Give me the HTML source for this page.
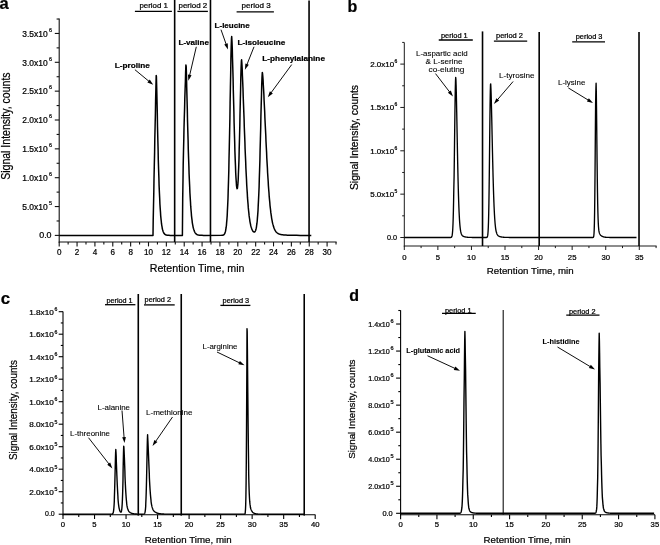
<!DOCTYPE html>
<html><head><meta charset="utf-8"><title>Chromatograms</title>
<style>
html,body{margin:0;padding:0;background:#fff;}
body{width:660px;height:545px;overflow:hidden;}
svg{display:block;font-family:"Liberation Sans", Arial, sans-serif;fill:#000;filter:grayscale(1);}
svg text{stroke:#000;stroke-width:0.22px;}
</style></head><body>
<svg width="660" height="545" viewBox="0 0 660 545">
<rect x="0" y="0" width="660" height="545" fill="#fff"/>
<line x1="59.20" y1="18.50" x2="59.20" y2="242.50" stroke="#111" stroke-width="1.1"/>
<line x1="58.70" y1="242.00" x2="336.60" y2="242.00" stroke="#111" stroke-width="1.1"/>
<line x1="54.80" y1="235.40" x2="59.20" y2="235.40" stroke="#111" stroke-width="1.1"/>
<text x="39.20" y="238.40" font-size="8.2" text-anchor="start" textLength="12.4" lengthAdjust="spacingAndGlyphs">0.0</text>
<line x1="54.80" y1="206.55" x2="59.20" y2="206.55" stroke="#111" stroke-width="1.1"/>
<text x="22.30" y="209.75" font-size="8.2" textLength="25.4" lengthAdjust="spacingAndGlyphs">5.0x10</text>
<text x="49.10" y="204.75" font-size="5.4">5</text>
<line x1="54.80" y1="177.70" x2="59.20" y2="177.70" stroke="#111" stroke-width="1.1"/>
<text x="22.30" y="180.90" font-size="8.2" textLength="25.4" lengthAdjust="spacingAndGlyphs">1.0x10</text>
<text x="49.10" y="175.90" font-size="5.4">6</text>
<line x1="54.80" y1="148.85" x2="59.20" y2="148.85" stroke="#111" stroke-width="1.1"/>
<text x="22.30" y="152.05" font-size="8.2" textLength="25.4" lengthAdjust="spacingAndGlyphs">1.5x10</text>
<text x="49.10" y="147.05" font-size="5.4">6</text>
<line x1="54.80" y1="120.00" x2="59.20" y2="120.00" stroke="#111" stroke-width="1.1"/>
<text x="22.30" y="123.20" font-size="8.2" textLength="25.4" lengthAdjust="spacingAndGlyphs">2.0x10</text>
<text x="49.10" y="118.20" font-size="5.4">6</text>
<line x1="54.80" y1="91.15" x2="59.20" y2="91.15" stroke="#111" stroke-width="1.1"/>
<text x="22.30" y="94.35" font-size="8.2" textLength="25.4" lengthAdjust="spacingAndGlyphs">2.5x10</text>
<text x="49.10" y="89.35" font-size="5.4">6</text>
<line x1="54.80" y1="62.30" x2="59.20" y2="62.30" stroke="#111" stroke-width="1.1"/>
<text x="22.30" y="65.50" font-size="8.2" textLength="25.4" lengthAdjust="spacingAndGlyphs">3.0x10</text>
<text x="49.10" y="60.50" font-size="5.4">6</text>
<line x1="54.80" y1="33.45" x2="59.20" y2="33.45" stroke="#111" stroke-width="1.1"/>
<text x="22.30" y="36.65" font-size="8.2" textLength="25.4" lengthAdjust="spacingAndGlyphs">3.5x10</text>
<text x="49.10" y="31.65" font-size="5.4">6</text>
<line x1="56.60" y1="220.97" x2="59.20" y2="220.97" stroke="#111" stroke-width="1.1"/>
<line x1="56.60" y1="192.12" x2="59.20" y2="192.12" stroke="#111" stroke-width="1.1"/>
<line x1="56.60" y1="163.28" x2="59.20" y2="163.28" stroke="#111" stroke-width="1.1"/>
<line x1="56.60" y1="134.43" x2="59.20" y2="134.43" stroke="#111" stroke-width="1.1"/>
<line x1="56.60" y1="105.57" x2="59.20" y2="105.57" stroke="#111" stroke-width="1.1"/>
<line x1="56.60" y1="76.72" x2="59.20" y2="76.72" stroke="#111" stroke-width="1.1"/>
<line x1="56.60" y1="47.88" x2="59.20" y2="47.88" stroke="#111" stroke-width="1.1"/>
<line x1="56.60" y1="19.03" x2="59.20" y2="19.03" stroke="#111" stroke-width="1.1"/>
<line x1="59.20" y1="242.00" x2="59.20" y2="246.40" stroke="#111" stroke-width="1.1"/>
<text x="59.20" y="255.40" font-size="8.2" text-anchor="middle" textLength="4.5" lengthAdjust="spacingAndGlyphs">0</text>
<line x1="77.06" y1="242.00" x2="77.06" y2="246.40" stroke="#111" stroke-width="1.1"/>
<text x="77.06" y="255.40" font-size="8.2" text-anchor="middle" textLength="4.5" lengthAdjust="spacingAndGlyphs">2</text>
<line x1="94.92" y1="242.00" x2="94.92" y2="246.40" stroke="#111" stroke-width="1.1"/>
<text x="94.92" y="255.40" font-size="8.2" text-anchor="middle" textLength="4.5" lengthAdjust="spacingAndGlyphs">4</text>
<line x1="112.78" y1="242.00" x2="112.78" y2="246.40" stroke="#111" stroke-width="1.1"/>
<text x="112.78" y="255.40" font-size="8.2" text-anchor="middle" textLength="4.5" lengthAdjust="spacingAndGlyphs">6</text>
<line x1="130.64" y1="242.00" x2="130.64" y2="246.40" stroke="#111" stroke-width="1.1"/>
<text x="130.64" y="255.40" font-size="8.2" text-anchor="middle" textLength="4.5" lengthAdjust="spacingAndGlyphs">8</text>
<line x1="148.50" y1="242.00" x2="148.50" y2="246.40" stroke="#111" stroke-width="1.1"/>
<text x="148.50" y="255.40" font-size="8.2" text-anchor="middle" textLength="9.0" lengthAdjust="spacingAndGlyphs">10</text>
<line x1="166.36" y1="242.00" x2="166.36" y2="246.40" stroke="#111" stroke-width="1.1"/>
<text x="166.36" y="255.40" font-size="8.2" text-anchor="middle" textLength="9.0" lengthAdjust="spacingAndGlyphs">12</text>
<line x1="184.22" y1="242.00" x2="184.22" y2="246.40" stroke="#111" stroke-width="1.1"/>
<text x="184.22" y="255.40" font-size="8.2" text-anchor="middle" textLength="9.0" lengthAdjust="spacingAndGlyphs">14</text>
<line x1="202.08" y1="242.00" x2="202.08" y2="246.40" stroke="#111" stroke-width="1.1"/>
<text x="202.08" y="255.40" font-size="8.2" text-anchor="middle" textLength="9.0" lengthAdjust="spacingAndGlyphs">16</text>
<line x1="219.94" y1="242.00" x2="219.94" y2="246.40" stroke="#111" stroke-width="1.1"/>
<text x="219.94" y="255.40" font-size="8.2" text-anchor="middle" textLength="9.0" lengthAdjust="spacingAndGlyphs">18</text>
<line x1="237.80" y1="242.00" x2="237.80" y2="246.40" stroke="#111" stroke-width="1.1"/>
<text x="237.80" y="255.40" font-size="8.2" text-anchor="middle" textLength="9.0" lengthAdjust="spacingAndGlyphs">20</text>
<line x1="255.66" y1="242.00" x2="255.66" y2="246.40" stroke="#111" stroke-width="1.1"/>
<text x="255.66" y="255.40" font-size="8.2" text-anchor="middle" textLength="9.0" lengthAdjust="spacingAndGlyphs">22</text>
<line x1="273.52" y1="242.00" x2="273.52" y2="246.40" stroke="#111" stroke-width="1.1"/>
<text x="273.52" y="255.40" font-size="8.2" text-anchor="middle" textLength="9.0" lengthAdjust="spacingAndGlyphs">24</text>
<line x1="291.38" y1="242.00" x2="291.38" y2="246.40" stroke="#111" stroke-width="1.1"/>
<text x="291.38" y="255.40" font-size="8.2" text-anchor="middle" textLength="9.0" lengthAdjust="spacingAndGlyphs">26</text>
<line x1="309.24" y1="242.00" x2="309.24" y2="246.40" stroke="#111" stroke-width="1.1"/>
<text x="309.24" y="255.40" font-size="8.2" text-anchor="middle" textLength="9.0" lengthAdjust="spacingAndGlyphs">28</text>
<line x1="327.10" y1="242.00" x2="327.10" y2="246.40" stroke="#111" stroke-width="1.1"/>
<text x="327.10" y="255.40" font-size="8.2" text-anchor="middle" textLength="9.0" lengthAdjust="spacingAndGlyphs">30</text>
<line x1="68.13" y1="242.00" x2="68.13" y2="244.60" stroke="#111" stroke-width="1.1"/>
<line x1="85.99" y1="242.00" x2="85.99" y2="244.60" stroke="#111" stroke-width="1.1"/>
<line x1="103.85" y1="242.00" x2="103.85" y2="244.60" stroke="#111" stroke-width="1.1"/>
<line x1="121.71" y1="242.00" x2="121.71" y2="244.60" stroke="#111" stroke-width="1.1"/>
<line x1="139.57" y1="242.00" x2="139.57" y2="244.60" stroke="#111" stroke-width="1.1"/>
<line x1="157.43" y1="242.00" x2="157.43" y2="244.60" stroke="#111" stroke-width="1.1"/>
<line x1="175.29" y1="242.00" x2="175.29" y2="244.60" stroke="#111" stroke-width="1.1"/>
<line x1="193.15" y1="242.00" x2="193.15" y2="244.60" stroke="#111" stroke-width="1.1"/>
<line x1="211.01" y1="242.00" x2="211.01" y2="244.60" stroke="#111" stroke-width="1.1"/>
<line x1="228.87" y1="242.00" x2="228.87" y2="244.60" stroke="#111" stroke-width="1.1"/>
<line x1="246.73" y1="242.00" x2="246.73" y2="244.60" stroke="#111" stroke-width="1.1"/>
<line x1="264.59" y1="242.00" x2="264.59" y2="244.60" stroke="#111" stroke-width="1.1"/>
<line x1="282.45" y1="242.00" x2="282.45" y2="244.60" stroke="#111" stroke-width="1.1"/>
<line x1="300.31" y1="242.00" x2="300.31" y2="244.60" stroke="#111" stroke-width="1.1"/>
<line x1="318.17" y1="242.00" x2="318.17" y2="244.60" stroke="#111" stroke-width="1.1"/>
<line x1="336.03" y1="242.00" x2="336.03" y2="244.60" stroke="#111" stroke-width="1.1"/>
<line x1="174.66" y1="0.00" x2="174.66" y2="242.00" stroke="#000" stroke-width="1.6"/>
<line x1="210.47" y1="0.00" x2="210.47" y2="242.00" stroke="#000" stroke-width="1.6"/>
<line x1="309.06" y1="0.50" x2="309.06" y2="242.00" stroke="#000" stroke-width="1.6"/>
<path d="M59.2,235.40 L153.0,235.40 L153.2,220.31 L153.5,206.25 L153.8,192.55 L154.0,179.08 L154.3,165.78 L154.6,152.61 L154.8,139.55 L155.1,126.59 L155.4,113.71 L155.6,100.90 L155.9,88.15 L156.2,75.46 L156.4,76.49 L156.7,87.87 L157.0,100.56 L157.3,113.51 L157.5,126.16 L157.8,138.21 L158.1,149.49 L158.3,159.89 L158.6,169.37 L158.9,177.93 L159.1,185.61 L159.4,192.43 L159.7,198.46 L159.9,203.76 L160.2,208.39 L160.5,212.42 L160.7,215.91 L161.0,218.92 L161.3,221.50 L161.5,223.72 L161.8,225.60 L162.1,227.20 L162.3,228.56 L162.6,229.71 L162.9,230.67 L163.1,231.48 L163.4,232.16 L163.7,232.73 L163.9,233.20 L164.2,233.59 L164.5,233.92 L164.8,234.19 L165.0,234.41 L165.3,234.59 L165.6,234.74 L165.8,234.87 L166.1,234.97 L166.4,235.05 L166.6,235.12 L166.9,235.17 L167.2,235.22 L167.4,235.25 L167.7,235.28 L168.0,235.30 L168.5,235.34 L169.0,235.36 L170.1,235.38 L182.4,235.40 L182.7,198.81 L183.0,179.94 L183.2,164.67 L183.5,151.34 L183.8,139.30 L184.0,128.19 L184.3,117.80 L184.6,107.99 L184.8,98.67 L185.1,89.74 L185.4,81.17 L185.6,72.90 L185.9,64.91 L186.2,66.59 L186.5,76.03 L186.7,86.75 L187.0,97.92 L187.3,109.10 L187.5,120.03 L187.8,130.53 L188.1,140.50 L188.3,149.86 L188.6,158.58 L188.9,166.64 L189.1,174.05 L189.4,180.83 L189.7,186.99 L189.9,192.58 L190.2,197.61 L190.5,202.13 L190.7,206.18 L191.0,209.79 L191.3,213.01 L191.5,215.86 L191.8,218.38 L192.1,220.61 L192.3,222.57 L192.6,224.28 L192.9,225.79 L193.1,227.11 L193.4,228.25 L193.7,229.25 L194.0,230.12 L194.2,230.87 L194.5,231.52 L194.8,232.09 L195.0,232.57 L195.3,232.99 L195.6,233.35 L195.8,233.65 L196.1,233.92 L196.4,234.14 L196.6,234.34 L196.9,234.50 L197.2,234.64 L197.4,234.76 L197.7,234.86 L198.0,234.94 L198.2,235.02 L198.5,235.08 L198.8,235.13 L199.0,235.17 L199.3,235.21 L199.6,235.24 L199.8,235.27 L200.1,235.29 L200.7,235.32 L201.2,235.35 L202.0,235.37 L203.6,235.39 L221.5,235.36 L221.8,235.34 L222.1,235.32 L222.4,235.29 L222.6,235.24 L222.9,235.17 L223.2,235.09 L223.4,234.97 L223.7,234.81 L224.0,234.59 L224.2,234.30 L224.5,233.92 L224.8,233.42 L225.0,232.77 L225.3,231.93 L225.6,230.85 L225.8,229.48 L226.1,227.75 L226.4,225.59 L226.6,222.92 L226.9,219.63 L227.2,215.63 L227.4,210.81 L227.7,205.08 L228.0,198.31 L228.2,190.43 L228.5,181.36 L228.8,171.05 L229.0,159.51 L229.3,146.78 L229.6,132.99 L229.9,118.33 L230.1,103.11 L230.4,87.74 L230.7,72.76 L230.9,58.88 L231.2,47.00 L231.5,38.38 L231.7,36.61 L232.0,41.82 L232.3,49.31 L232.5,58.31 L232.8,68.34 L233.1,79.02 L233.3,90.04 L233.6,101.14 L233.9,112.10 L234.1,122.73 L234.4,132.89 L234.7,142.45 L234.9,151.30 L235.2,159.36 L235.5,166.56 L235.7,172.84 L236.0,178.14 L236.3,182.43 L236.5,185.64 L236.8,187.73 L237.1,188.65 L237.4,188.35 L237.6,186.78 L237.9,183.89 L238.2,179.64 L238.4,174.02 L238.7,167.02 L239.0,158.67 L239.2,149.06 L239.5,138.31 L239.8,126.64 L240.0,114.32 L240.3,101.75 L240.6,89.40 L240.8,77.91 L241.1,68.07 L241.4,61.00 L241.6,59.83 L241.9,63.88 L242.2,69.14 L242.4,75.23 L242.7,81.93 L243.0,89.07 L243.2,96.51 L243.5,104.14 L243.8,111.85 L244.1,119.55 L244.3,127.17 L244.6,134.65 L244.9,141.92 L245.1,148.95 L245.4,155.70 L245.7,162.14 L245.9,168.26 L246.2,174.03 L246.5,179.45 L246.7,184.53 L247.0,189.25 L247.3,193.62 L247.5,197.67 L247.8,201.39 L248.1,204.80 L248.3,207.91 L248.6,210.75 L248.9,213.32 L249.1,215.66 L249.4,217.76 L249.7,219.65 L249.9,221.35 L250.2,222.87 L250.5,224.23 L250.7,225.44 L251.0,226.51 L251.3,227.47 L251.6,228.31 L251.8,229.05 L252.1,229.69 L252.4,230.25 L252.6,230.73 L252.9,231.14 L253.2,231.47 L253.4,231.73 L253.7,231.92 L254.0,232.03 L254.2,232.06 L254.5,232.00 L254.8,231.83 L255.0,231.54 L255.3,231.10 L255.6,230.50 L255.8,229.70 L256.1,228.67 L256.4,227.36 L256.6,225.72 L256.9,223.72 L257.2,221.28 L257.4,218.35 L257.7,214.86 L258.0,210.75 L258.2,205.95 L258.5,200.41 L258.8,194.07 L259.1,186.91 L259.3,178.91 L259.6,170.07 L259.9,160.45 L260.1,150.12 L260.4,139.23 L260.7,127.95 L260.9,116.53 L261.2,105.31 L261.5,94.69 L261.7,85.17 L262.0,77.42 L262.3,72.45 L262.5,73.24 L262.8,76.36 L263.1,80.26 L263.3,84.74 L263.6,89.67 L263.9,94.94 L264.1,100.48 L264.4,106.22 L264.7,112.08 L264.9,118.01 L265.2,123.96 L265.5,129.89 L265.8,135.76 L266.0,141.52 L266.3,147.17 L266.6,152.66 L266.8,157.99 L267.1,163.12 L267.4,168.05 L267.6,172.77 L267.9,177.28 L268.2,181.56 L268.4,185.61 L268.7,189.44 L269.0,193.04 L269.2,196.42 L269.5,199.59 L269.8,202.54 L270.0,205.30 L270.3,207.86 L270.6,210.23 L270.8,212.42 L271.1,214.44 L271.4,216.31 L271.6,218.02 L271.9,219.59 L272.2,221.03 L272.4,222.35 L272.7,223.55 L273.0,224.64 L273.3,225.63 L273.5,226.54 L273.8,227.36 L274.1,228.10 L274.3,228.77 L274.6,229.38 L274.9,229.93 L275.1,230.42 L275.4,230.87 L275.7,231.28 L275.9,231.64 L276.2,231.97 L276.5,232.26 L276.7,232.53 L277.0,232.77 L277.3,232.99 L277.5,233.18 L277.8,233.36 L278.1,233.52 L278.3,233.66 L278.6,233.79 L278.9,233.91 L279.1,234.02 L279.4,234.11 L279.7,234.20 L279.9,234.28 L280.2,234.36 L280.5,234.42 L280.8,234.49 L281.0,234.54 L281.3,234.60 L281.6,234.64 L281.8,234.69 L282.1,234.73 L282.4,234.77 L282.6,234.80 L282.9,234.84 L283.2,234.87 L283.4,234.90 L283.7,234.92 L284.0,234.95 L284.2,234.97 L284.5,235.00 L284.8,235.02 L285.3,235.05 L285.8,235.09 L286.4,235.12 L286.9,235.15 L287.5,235.17 L288.0,235.19 L288.8,235.22 L289.6,235.25 L290.4,235.27 L291.5,235.29 L292.8,235.32 L294.4,235.34 L296.6,235.36 L300.3,235.38 L311.3,235.40" fill="none" stroke="#000" stroke-width="1.5" stroke-linejoin="round"/>
<line x1="134.90" y1="11.40" x2="171.90" y2="11.40" stroke="#000" stroke-width="1.3"/>
<text x="139.40" y="7.70" font-size="7.0" text-anchor="start" textLength="28.5" lengthAdjust="spacingAndGlyphs">period 1</text>
<line x1="177.40" y1="11.40" x2="207.90" y2="11.40" stroke="#000" stroke-width="1.3"/>
<text x="178.50" y="7.70" font-size="7.0" text-anchor="start" textLength="28.7" lengthAdjust="spacingAndGlyphs">period 2</text>
<line x1="236.60" y1="11.90" x2="273.90" y2="11.90" stroke="#000" stroke-width="1.3"/>
<text x="241.60" y="7.70" font-size="7.0" text-anchor="start" textLength="29.0" lengthAdjust="spacingAndGlyphs">period 3</text>
<text x="114.70" y="67.60" font-size="7.9" text-anchor="start" font-weight="bold" textLength="35.1" lengthAdjust="spacingAndGlyphs">L-proline</text>
<text x="178.50" y="44.80" font-size="7.9" text-anchor="start" font-weight="bold" textLength="30.4" lengthAdjust="spacingAndGlyphs">L-valine</text>
<text x="214.60" y="28.00" font-size="7.9" text-anchor="start" font-weight="bold" textLength="35.1" lengthAdjust="spacingAndGlyphs">L-leucine</text>
<text x="237.50" y="44.50" font-size="7.9" text-anchor="start" font-weight="bold" textLength="47.7" lengthAdjust="spacingAndGlyphs">L-isoleucine</text>
<text x="262.30" y="61.20" font-size="7.9" text-anchor="start" font-weight="bold" textLength="62.7" lengthAdjust="spacingAndGlyphs">L-phenylalanine</text>
<line x1="134.90" y1="69.70" x2="149.34" y2="81.62" stroke="#000" stroke-width="0.95"/>
<polygon points="153.20,84.80 147.39,82.41 149.75,79.55" fill="#000"/>
<line x1="196.30" y1="46.80" x2="189.53" y2="75.83" stroke="#000" stroke-width="0.95"/>
<polygon points="188.40,80.70 187.96,74.44 191.56,75.28" fill="#000"/>
<line x1="221.00" y1="29.70" x2="226.33" y2="44.79" stroke="#000" stroke-width="0.95"/>
<polygon points="228.00,49.50 224.26,44.46 227.74,43.23" fill="#000"/>
<line x1="254.00" y1="46.80" x2="246.75" y2="65.05" stroke="#000" stroke-width="0.95"/>
<polygon points="244.90,69.70 245.40,63.44 248.83,64.81" fill="#000"/>
<line x1="291.70" y1="64.60" x2="270.76" y2="93.17" stroke="#000" stroke-width="0.95"/>
<polygon points="267.80,97.20 269.86,91.27 272.84,93.45" fill="#000"/>
<text x="149.70" y="272.20" font-size="11.8" text-anchor="start" textLength="94.8" lengthAdjust="spacingAndGlyphs">Retention Time, min</text>
<text x="10.00" y="179.80" font-size="12.6" text-anchor="start" textLength="107.4" lengthAdjust="spacingAndGlyphs" transform="rotate(-90 10.00 179.80)">Signal Intensity, counts</text>
<text x="-0.40" y="8.70" font-size="16.5" text-anchor="start" font-weight="bold">a</text>
<line x1="404.30" y1="42.50" x2="404.30" y2="246.50" stroke="#1a1a1a" stroke-width="1.0"/>
<line x1="403.80" y1="246.00" x2="656.60" y2="246.00" stroke="#1a1a1a" stroke-width="1.0"/>
<line x1="400.30" y1="237.50" x2="404.30" y2="237.50" stroke="#1a1a1a" stroke-width="1.0"/>
<text x="387.00" y="240.10" font-size="7.4" text-anchor="start" fill="#000" textLength="10.1" lengthAdjust="spacingAndGlyphs">0.0</text>
<line x1="400.30" y1="194.15" x2="404.30" y2="194.15" stroke="#1a1a1a" stroke-width="1.0"/>
<text x="370.20" y="197.05" font-size="7.4" textLength="24.0" lengthAdjust="spacingAndGlyphs" fill="#000">5.0x10</text>
<text x="394.60" y="192.85" font-size="5.0" fill="#000">5</text>
<line x1="400.30" y1="150.80" x2="404.30" y2="150.80" stroke="#1a1a1a" stroke-width="1.0"/>
<text x="370.20" y="153.70" font-size="7.4" textLength="24.0" lengthAdjust="spacingAndGlyphs" fill="#000">1.0x10</text>
<text x="394.60" y="149.50" font-size="5.0" fill="#000">6</text>
<line x1="400.30" y1="107.45" x2="404.30" y2="107.45" stroke="#1a1a1a" stroke-width="1.0"/>
<text x="370.20" y="110.35" font-size="7.4" textLength="24.0" lengthAdjust="spacingAndGlyphs" fill="#000">1.5x10</text>
<text x="394.60" y="106.15" font-size="5.0" fill="#000">6</text>
<line x1="400.30" y1="64.10" x2="404.30" y2="64.10" stroke="#1a1a1a" stroke-width="1.0"/>
<text x="370.20" y="67.00" font-size="7.4" textLength="24.0" lengthAdjust="spacingAndGlyphs" fill="#000">2.0x10</text>
<text x="394.60" y="62.80" font-size="5.0" fill="#000">6</text>
<line x1="402.20" y1="215.82" x2="404.30" y2="215.82" stroke="#1a1a1a" stroke-width="1.0"/>
<line x1="402.20" y1="172.47" x2="404.30" y2="172.47" stroke="#1a1a1a" stroke-width="1.0"/>
<line x1="402.20" y1="129.12" x2="404.30" y2="129.12" stroke="#1a1a1a" stroke-width="1.0"/>
<line x1="402.20" y1="85.78" x2="404.30" y2="85.78" stroke="#1a1a1a" stroke-width="1.0"/>
<line x1="402.20" y1="42.42" x2="404.30" y2="42.42" stroke="#1a1a1a" stroke-width="1.0"/>
<line x1="404.30" y1="246.00" x2="404.30" y2="250.00" stroke="#1a1a1a" stroke-width="1.0"/>
<text x="404.30" y="259.80" font-size="7.4" text-anchor="middle" fill="#000" textLength="4.3" lengthAdjust="spacingAndGlyphs">0</text>
<line x1="437.87" y1="246.00" x2="437.87" y2="250.00" stroke="#1a1a1a" stroke-width="1.0"/>
<text x="437.87" y="259.80" font-size="7.4" text-anchor="middle" fill="#000" textLength="4.3" lengthAdjust="spacingAndGlyphs">5</text>
<line x1="471.44" y1="246.00" x2="471.44" y2="250.00" stroke="#1a1a1a" stroke-width="1.0"/>
<text x="471.44" y="259.80" font-size="7.4" text-anchor="middle" fill="#000" textLength="8.6" lengthAdjust="spacingAndGlyphs">10</text>
<line x1="505.01" y1="246.00" x2="505.01" y2="250.00" stroke="#1a1a1a" stroke-width="1.0"/>
<text x="505.01" y="259.80" font-size="7.4" text-anchor="middle" fill="#000" textLength="8.6" lengthAdjust="spacingAndGlyphs">15</text>
<line x1="538.58" y1="246.00" x2="538.58" y2="250.00" stroke="#1a1a1a" stroke-width="1.0"/>
<text x="538.58" y="259.80" font-size="7.4" text-anchor="middle" fill="#000" textLength="8.6" lengthAdjust="spacingAndGlyphs">20</text>
<line x1="572.15" y1="246.00" x2="572.15" y2="250.00" stroke="#1a1a1a" stroke-width="1.0"/>
<text x="572.15" y="259.80" font-size="7.4" text-anchor="middle" fill="#000" textLength="8.6" lengthAdjust="spacingAndGlyphs">25</text>
<line x1="605.72" y1="246.00" x2="605.72" y2="250.00" stroke="#1a1a1a" stroke-width="1.0"/>
<text x="605.72" y="259.80" font-size="7.4" text-anchor="middle" fill="#000" textLength="8.6" lengthAdjust="spacingAndGlyphs">30</text>
<line x1="639.29" y1="246.00" x2="639.29" y2="250.00" stroke="#1a1a1a" stroke-width="1.0"/>
<text x="639.29" y="259.80" font-size="7.4" text-anchor="middle" fill="#000" textLength="8.6" lengthAdjust="spacingAndGlyphs">35</text>
<line x1="421.09" y1="246.00" x2="421.09" y2="248.10" stroke="#1a1a1a" stroke-width="1.0"/>
<line x1="454.66" y1="246.00" x2="454.66" y2="248.10" stroke="#1a1a1a" stroke-width="1.0"/>
<line x1="488.23" y1="246.00" x2="488.23" y2="248.10" stroke="#1a1a1a" stroke-width="1.0"/>
<line x1="521.80" y1="246.00" x2="521.80" y2="248.10" stroke="#1a1a1a" stroke-width="1.0"/>
<line x1="555.37" y1="246.00" x2="555.37" y2="248.10" stroke="#1a1a1a" stroke-width="1.0"/>
<line x1="588.94" y1="246.00" x2="588.94" y2="248.10" stroke="#1a1a1a" stroke-width="1.0"/>
<line x1="622.50" y1="246.00" x2="622.50" y2="248.10" stroke="#1a1a1a" stroke-width="1.0"/>
<line x1="656.08" y1="246.00" x2="656.08" y2="248.10" stroke="#1a1a1a" stroke-width="1.0"/>
<line x1="482.52" y1="31.40" x2="482.52" y2="246.00" stroke="#000" stroke-width="1.6"/>
<line x1="539.18" y1="32.00" x2="539.18" y2="246.00" stroke="#000" stroke-width="1.6"/>
<line x1="639.02" y1="32.00" x2="639.02" y2="246.00" stroke="#000" stroke-width="1.6"/>
<path d="M404.3,237.50 L450.6,237.48 L450.8,237.46 L451.0,237.42 L451.2,237.34 L451.4,237.21 L451.6,236.99 L451.8,236.61 L452.0,235.99 L452.2,235.03 L452.4,233.56 L452.6,231.38 L452.8,228.25 L453.0,223.92 L453.2,218.11 L453.4,210.56 L453.6,201.10 L453.8,189.67 L454.1,176.36 L454.3,161.50 L454.5,145.62 L454.7,129.45 L454.9,113.93 L455.1,100.04 L455.3,88.79 L455.5,81.02 L455.7,77.35 L455.9,79.21 L456.1,84.80 L456.3,92.38 L456.5,101.38 L456.7,111.32 L456.9,121.82 L457.1,132.53 L457.3,143.18 L457.5,153.53 L457.7,163.39 L457.9,172.64 L458.1,181.16 L458.3,188.92 L458.5,195.89 L458.7,202.08 L458.9,207.51 L459.1,212.22 L459.3,216.28 L459.5,219.74 L459.7,222.66 L459.9,225.12 L460.1,227.16 L460.3,228.86 L460.5,230.26 L460.7,231.40 L460.9,232.34 L461.1,233.11 L461.3,233.74 L461.5,234.25 L461.7,234.67 L461.9,235.02 L462.1,235.30 L462.3,235.54 L462.5,235.75 L462.7,235.92 L462.9,236.06 L463.1,236.19 L463.3,236.30 L463.5,236.40 L463.7,236.49 L463.9,236.57 L464.1,236.64 L464.3,236.71 L464.5,236.77 L464.7,236.82 L464.9,236.87 L465.1,236.92 L465.3,236.96 L465.5,237.00 L465.7,237.04 L465.9,237.07 L466.1,237.10 L466.3,237.13 L466.5,237.16 L466.7,237.18 L466.9,237.20 L467.1,237.23 L467.5,237.26 L467.9,237.30 L468.4,237.32 L468.8,237.35 L469.2,237.37 L469.8,237.40 L470.4,237.42 L471.2,237.44 L472.4,237.46 L474.4,237.48 L486.5,237.47 L486.7,237.43 L486.9,237.35 L487.1,237.20 L487.3,236.90 L487.5,236.36 L487.7,235.41 L487.9,233.82 L488.1,231.27 L488.3,227.36 L488.5,221.65 L488.7,213.69 L488.9,203.14 L489.1,189.87 L489.3,174.06 L489.5,156.31 L489.7,137.67 L489.9,119.56 L490.1,103.63 L490.3,91.51 L490.5,84.54 L490.7,83.86 L490.9,87.68 L491.1,93.29 L491.3,100.21 L491.5,108.09 L491.7,116.62 L491.9,125.56 L492.1,134.68 L492.3,143.78 L492.5,152.70 L492.7,161.31 L492.9,169.50 L493.1,177.19 L493.3,184.33 L493.5,190.88 L493.7,196.85 L493.9,202.22 L494.1,207.01 L494.3,211.26 L494.5,214.99 L494.7,218.24 L494.9,221.06 L495.1,223.48 L495.3,225.56 L495.5,227.33 L495.7,228.83 L495.9,230.09 L496.1,231.15 L496.3,232.04 L496.6,232.79 L496.8,233.41 L497.0,233.93 L497.2,234.37 L497.4,234.73 L497.6,235.04 L497.8,235.30 L498.0,235.52 L498.2,235.71 L498.4,235.87 L498.6,236.01 L498.8,236.14 L499.0,236.25 L499.2,236.34 L499.4,236.43 L499.6,236.51 L499.8,236.58 L500.0,236.64 L500.2,236.70 L500.4,236.75 L500.6,236.80 L500.8,236.85 L501.0,236.89 L501.2,236.93 L501.4,236.97 L501.6,237.00 L501.8,237.04 L502.0,237.07 L502.2,237.09 L502.4,237.12 L502.6,237.15 L502.8,237.17 L503.0,237.19 L503.2,237.21 L503.6,237.25 L504.0,237.28 L504.4,237.31 L504.8,237.33 L505.2,237.35 L505.8,237.38 L506.4,237.40 L507.2,237.42 L508.2,237.45 L509.6,237.47 L512.5,237.49 L592.8,237.49 L593.0,237.46 L593.2,237.39 L593.4,237.21 L593.6,236.77 L593.8,235.79 L594.0,233.76 L594.2,229.91 L594.4,223.22 L594.6,212.55 L594.8,197.04 L595.0,176.60 L595.2,152.38 L595.4,127.07 L595.6,104.51 L595.9,88.81 L596.1,83.17 L596.3,91.37 L596.5,106.52 L596.7,124.98 L596.9,144.30 L597.1,162.70 L597.3,179.06 L597.5,192.83 L597.7,203.89 L597.9,212.44 L598.1,218.81 L598.3,223.45 L598.5,226.74 L598.7,229.06 L598.9,230.67 L599.1,231.82 L599.3,232.64 L599.5,233.26 L599.7,233.74 L599.9,234.13 L600.1,234.45 L600.3,234.73 L600.5,234.98 L600.7,235.21 L600.9,235.41 L601.1,235.59 L601.3,235.76 L601.5,235.91 L601.7,236.05 L601.9,236.17 L602.1,236.29 L602.3,236.39 L602.5,236.49 L602.7,236.58 L602.9,236.66 L603.1,236.73 L603.3,236.80 L603.5,236.86 L603.7,236.91 L603.9,236.97 L604.1,237.01 L604.3,237.05 L604.5,237.09 L604.7,237.13 L604.9,237.16 L605.1,237.19 L605.3,237.22 L605.5,237.24 L605.7,237.26 L605.9,237.28 L606.3,237.32 L606.7,237.35 L607.1,237.38 L607.5,237.40 L608.1,237.42 L608.9,237.44 L609.9,237.47 L612.0,237.49 L636.5,237.50" fill="none" stroke="#000" stroke-width="1.35" stroke-linejoin="round"/>
<line x1="438.75" y1="40.00" x2="472.80" y2="40.00" stroke="#000" stroke-width="1.3"/>
<text x="441.00" y="38.10" font-size="6.8" text-anchor="start" fill="#000" textLength="26.7" lengthAdjust="spacingAndGlyphs">period 1</text>
<line x1="493.90" y1="41.10" x2="527.20" y2="41.10" stroke="#000" stroke-width="1.3"/>
<text x="496.00" y="37.80" font-size="6.8" text-anchor="start" fill="#000" textLength="26.9" lengthAdjust="spacingAndGlyphs">period 2</text>
<line x1="572.20" y1="41.90" x2="605.00" y2="41.90" stroke="#000" stroke-width="1.3"/>
<text x="575.70" y="38.80" font-size="6.8" text-anchor="start" fill="#000" textLength="26.8" lengthAdjust="spacingAndGlyphs">period 3</text>
<text x="416.00" y="56.00" font-size="6.4" textLength="51.6" lengthAdjust="spacingAndGlyphs" style="stroke-width:0.08px">L-aspartic acid</text>
<text x="425.50" y="64.20" font-size="6.4" textLength="37.0" lengthAdjust="spacingAndGlyphs" style="stroke-width:0.08px">&amp; L-serine</text>
<text x="428.50" y="72.40" font-size="6.4" textLength="36.0" lengthAdjust="spacingAndGlyphs" style="stroke-width:0.08px">co-eluting</text>
<text x="499.00" y="78.20" font-size="6.4" textLength="35.5" lengthAdjust="spacingAndGlyphs" style="stroke-width:0.08px">L-tyrosine</text>
<text x="558.10" y="84.60" font-size="6.4" textLength="27.2" lengthAdjust="spacingAndGlyphs" style="stroke-width:0.08px">L-lysine</text>
<line x1="435.50" y1="73.60" x2="449.96" y2="92.43" stroke="#000" stroke-width="0.95"/>
<polygon points="453.00,96.40 447.88,92.77 450.81,90.51" fill="#000"/>
<line x1="513.10" y1="81.50" x2="497.15" y2="100.10" stroke="#000" stroke-width="0.95"/>
<polygon points="493.90,103.90 496.40,98.14 499.21,100.55" fill="#000"/>
<line x1="568.30" y1="87.90" x2="588.73" y2="100.39" stroke="#000" stroke-width="0.95"/>
<polygon points="593.00,103.00 586.92,101.45 588.85,98.29" fill="#000"/>
<text x="486.70" y="274.40" font-size="9.7" textLength="86.9" lengthAdjust="spacing">Retention Time, min</text>
<text x="358.40" y="190.00" font-size="10.2" text-anchor="start" fill="#000" textLength="105.0" lengthAdjust="spacingAndGlyphs" transform="rotate(-90 358.40 190.00)">Signal Intensity, counts</text>
<text x="347.40" y="12.40" font-size="16" text-anchor="start" font-weight="bold">b</text>
<line x1="63.00" y1="311.50" x2="63.00" y2="515.20" stroke="#000" stroke-width="1.1"/>
<line x1="62.50" y1="514.70" x2="315.40" y2="514.70" stroke="#000" stroke-width="1.1"/>
<line x1="58.70" y1="514.20" x2="63.00" y2="514.20" stroke="#000" stroke-width="1.1"/>
<text x="45.00" y="515.70" font-size="7.4" text-anchor="start" fill="#000" textLength="9.7" lengthAdjust="spacingAndGlyphs">0.0</text>
<line x1="58.70" y1="491.70" x2="63.00" y2="491.70" stroke="#000" stroke-width="1.1"/>
<text x="29.20" y="494.90" font-size="7.4" textLength="24.6" lengthAdjust="spacingAndGlyphs" fill="#000">2.0x10</text>
<text x="54.50" y="491.10" font-size="5.2" fill="#000">5</text>
<line x1="58.70" y1="469.20" x2="63.00" y2="469.20" stroke="#000" stroke-width="1.1"/>
<text x="29.20" y="472.40" font-size="7.4" textLength="24.6" lengthAdjust="spacingAndGlyphs" fill="#000">4.0x10</text>
<text x="54.50" y="468.60" font-size="5.2" fill="#000">5</text>
<line x1="58.70" y1="446.70" x2="63.00" y2="446.70" stroke="#000" stroke-width="1.1"/>
<text x="29.20" y="449.90" font-size="7.4" textLength="24.6" lengthAdjust="spacingAndGlyphs" fill="#000">6.0x10</text>
<text x="54.50" y="446.10" font-size="5.2" fill="#000">5</text>
<line x1="58.70" y1="424.20" x2="63.00" y2="424.20" stroke="#000" stroke-width="1.1"/>
<text x="29.20" y="427.40" font-size="7.4" textLength="24.6" lengthAdjust="spacingAndGlyphs" fill="#000">8.0x10</text>
<text x="54.50" y="423.60" font-size="5.2" fill="#000">5</text>
<line x1="58.70" y1="401.70" x2="63.00" y2="401.70" stroke="#000" stroke-width="1.1"/>
<text x="29.20" y="404.90" font-size="7.4" textLength="24.6" lengthAdjust="spacingAndGlyphs" fill="#000">1.0x10</text>
<text x="54.50" y="401.10" font-size="5.2" fill="#000">6</text>
<line x1="58.70" y1="379.20" x2="63.00" y2="379.20" stroke="#000" stroke-width="1.1"/>
<text x="29.20" y="382.40" font-size="7.4" textLength="24.6" lengthAdjust="spacingAndGlyphs" fill="#000">1.2x10</text>
<text x="54.50" y="378.60" font-size="5.2" fill="#000">6</text>
<line x1="58.70" y1="356.70" x2="63.00" y2="356.70" stroke="#000" stroke-width="1.1"/>
<text x="29.20" y="359.90" font-size="7.4" textLength="24.6" lengthAdjust="spacingAndGlyphs" fill="#000">1.4x10</text>
<text x="54.50" y="356.10" font-size="5.2" fill="#000">6</text>
<line x1="58.70" y1="334.20" x2="63.00" y2="334.20" stroke="#000" stroke-width="1.1"/>
<text x="29.20" y="337.40" font-size="7.4" textLength="24.6" lengthAdjust="spacingAndGlyphs" fill="#000">1.6x10</text>
<text x="54.50" y="333.60" font-size="5.2" fill="#000">6</text>
<line x1="58.70" y1="311.70" x2="63.00" y2="311.70" stroke="#000" stroke-width="1.1"/>
<text x="29.20" y="314.90" font-size="7.4" textLength="24.6" lengthAdjust="spacingAndGlyphs" fill="#000">1.8x10</text>
<text x="54.50" y="311.10" font-size="5.2" fill="#000">6</text>
<line x1="60.80" y1="502.95" x2="63.00" y2="502.95" stroke="#000" stroke-width="1.1"/>
<line x1="60.80" y1="480.45" x2="63.00" y2="480.45" stroke="#000" stroke-width="1.1"/>
<line x1="60.80" y1="457.95" x2="63.00" y2="457.95" stroke="#000" stroke-width="1.1"/>
<line x1="60.80" y1="435.45" x2="63.00" y2="435.45" stroke="#000" stroke-width="1.1"/>
<line x1="60.80" y1="412.95" x2="63.00" y2="412.95" stroke="#000" stroke-width="1.1"/>
<line x1="60.80" y1="390.45" x2="63.00" y2="390.45" stroke="#000" stroke-width="1.1"/>
<line x1="60.80" y1="367.95" x2="63.00" y2="367.95" stroke="#000" stroke-width="1.1"/>
<line x1="60.80" y1="345.45" x2="63.00" y2="345.45" stroke="#000" stroke-width="1.1"/>
<line x1="60.80" y1="322.95" x2="63.00" y2="322.95" stroke="#000" stroke-width="1.1"/>
<line x1="63.00" y1="514.70" x2="63.00" y2="519.00" stroke="#000" stroke-width="1.1"/>
<text x="63.00" y="527.40" font-size="7.4" text-anchor="middle" fill="#000" textLength="4.3" lengthAdjust="spacingAndGlyphs">0</text>
<line x1="94.53" y1="514.70" x2="94.53" y2="519.00" stroke="#000" stroke-width="1.1"/>
<text x="94.53" y="527.40" font-size="7.4" text-anchor="middle" fill="#000" textLength="4.3" lengthAdjust="spacingAndGlyphs">5</text>
<line x1="126.05" y1="514.70" x2="126.05" y2="519.00" stroke="#000" stroke-width="1.1"/>
<text x="126.05" y="527.40" font-size="7.4" text-anchor="middle" fill="#000" textLength="8.6" lengthAdjust="spacingAndGlyphs">10</text>
<line x1="157.57" y1="514.70" x2="157.57" y2="519.00" stroke="#000" stroke-width="1.1"/>
<text x="157.57" y="527.40" font-size="7.4" text-anchor="middle" fill="#000" textLength="8.6" lengthAdjust="spacingAndGlyphs">15</text>
<line x1="189.10" y1="514.70" x2="189.10" y2="519.00" stroke="#000" stroke-width="1.1"/>
<text x="189.10" y="527.40" font-size="7.4" text-anchor="middle" fill="#000" textLength="8.6" lengthAdjust="spacingAndGlyphs">20</text>
<line x1="220.62" y1="514.70" x2="220.62" y2="519.00" stroke="#000" stroke-width="1.1"/>
<text x="220.62" y="527.40" font-size="7.4" text-anchor="middle" fill="#000" textLength="8.6" lengthAdjust="spacingAndGlyphs">25</text>
<line x1="252.15" y1="514.70" x2="252.15" y2="519.00" stroke="#000" stroke-width="1.1"/>
<text x="252.15" y="527.40" font-size="7.4" text-anchor="middle" fill="#000" textLength="8.6" lengthAdjust="spacingAndGlyphs">30</text>
<line x1="283.67" y1="514.70" x2="283.67" y2="519.00" stroke="#000" stroke-width="1.1"/>
<text x="283.67" y="527.40" font-size="7.4" text-anchor="middle" fill="#000" textLength="8.6" lengthAdjust="spacingAndGlyphs">35</text>
<line x1="315.20" y1="514.70" x2="315.20" y2="519.00" stroke="#000" stroke-width="1.1"/>
<text x="315.20" y="527.40" font-size="7.4" text-anchor="middle" fill="#000" textLength="8.6" lengthAdjust="spacingAndGlyphs">40</text>
<line x1="78.76" y1="514.70" x2="78.76" y2="516.90" stroke="#000" stroke-width="1.1"/>
<line x1="110.29" y1="514.70" x2="110.29" y2="516.90" stroke="#000" stroke-width="1.1"/>
<line x1="141.81" y1="514.70" x2="141.81" y2="516.90" stroke="#000" stroke-width="1.1"/>
<line x1="173.34" y1="514.70" x2="173.34" y2="516.90" stroke="#000" stroke-width="1.1"/>
<line x1="204.86" y1="514.70" x2="204.86" y2="516.90" stroke="#000" stroke-width="1.1"/>
<line x1="236.39" y1="514.70" x2="236.39" y2="516.90" stroke="#000" stroke-width="1.1"/>
<line x1="267.91" y1="514.70" x2="267.91" y2="516.90" stroke="#000" stroke-width="1.1"/>
<line x1="299.44" y1="514.70" x2="299.44" y2="516.90" stroke="#000" stroke-width="1.1"/>
<line x1="138.28" y1="294.00" x2="138.28" y2="515.60" stroke="#000" stroke-width="1.6"/>
<line x1="181.25" y1="294.00" x2="181.25" y2="515.60" stroke="#000" stroke-width="1.6"/>
<line x1="304.23" y1="294.00" x2="304.23" y2="515.60" stroke="#000" stroke-width="1.6"/>
<path d="M63.0,514.20 L111.8,514.17 L112.0,514.14 L112.2,514.10 L112.4,514.03 L112.6,513.91 L112.7,513.72 L112.9,513.42 L113.1,512.97 L113.3,512.28 L113.5,511.27 L113.7,509.82 L113.9,507.79 L114.1,505.03 L114.3,501.37 L114.4,496.69 L114.6,490.90 L114.8,484.03 L115.0,476.27 L115.2,468.01 L115.4,459.96 L115.6,453.16 L115.8,449.51 L116.0,452.29 L116.2,456.33 L116.3,461.01 L116.5,466.02 L116.7,471.10 L116.9,476.08 L117.1,480.82 L117.3,485.23 L117.5,489.25 L117.7,492.85 L117.9,496.03 L118.0,498.80 L118.2,501.18 L118.4,503.21 L118.6,504.92 L118.8,506.36 L119.0,507.56 L119.2,508.55 L119.4,509.37 L119.6,510.04 L119.7,510.59 L119.9,511.05 L120.1,511.42 L120.3,511.71 L120.5,511.93 L120.7,512.07 L120.9,512.12 L121.1,512.04 L121.3,511.78 L121.4,511.26 L121.6,510.38 L121.8,508.99 L122.0,506.91 L122.2,503.93 L122.4,499.85 L122.6,494.47 L122.8,487.69 L123.0,479.57 L123.1,470.44 L123.3,460.97 L123.5,452.29 L123.7,446.25 L123.9,447.26 L124.1,451.12 L124.3,455.77 L124.5,460.83 L124.7,466.03 L124.9,471.17 L125.0,476.12 L125.2,480.76 L125.4,485.02 L125.6,488.88 L125.8,492.31 L126.0,495.32 L126.2,497.94 L126.4,500.20 L126.6,502.12 L126.7,503.75 L126.9,505.13 L127.1,506.29 L127.3,507.26 L127.5,508.08 L127.7,508.77 L127.9,509.36 L128.1,509.85 L128.3,510.28 L128.4,510.64 L128.6,510.96 L128.8,511.24 L129.0,511.49 L129.2,511.71 L129.4,511.90 L129.6,512.08 L129.8,512.24 L130.0,512.39 L130.1,512.53 L130.3,512.65 L130.5,512.76 L130.7,512.87 L130.9,512.97 L131.1,513.06 L131.3,513.14 L131.5,513.22 L131.7,513.29 L131.9,513.35 L132.0,513.41 L132.2,513.47 L132.4,513.52 L132.6,513.57 L132.8,513.62 L133.0,513.66 L133.2,513.70 L133.4,513.74 L133.6,513.77 L133.7,513.80 L133.9,513.83 L134.1,513.86 L134.3,513.88 L134.5,513.90 L134.7,513.93 L135.1,513.96 L135.4,514.00 L135.8,514.03 L136.2,514.05 L136.6,514.07 L137.1,514.10 L137.7,514.12 L138.5,514.14 L139.6,514.16 L141.5,514.18 L143.6,514.15 L143.8,514.12 L144.0,514.07 L144.1,513.98 L144.3,513.84 L144.5,513.61 L144.7,513.24 L144.9,512.68 L145.1,511.84 L145.3,510.60 L145.5,508.81 L145.7,506.32 L145.8,502.92 L146.0,498.43 L146.2,492.67 L146.4,485.55 L146.6,477.10 L146.8,467.56 L147.0,457.41 L147.2,447.50 L147.4,439.15 L147.6,434.66 L147.7,437.26 L147.9,440.95 L148.1,445.27 L148.3,449.95 L148.5,454.83 L148.7,459.75 L148.9,464.60 L149.1,469.29 L149.3,473.75 L149.4,477.93 L149.6,481.81 L149.8,485.37 L150.0,488.60 L150.2,491.50 L150.4,494.09 L150.6,496.39 L150.8,498.42 L151.0,500.20 L151.1,501.76 L151.3,503.11 L151.5,504.29 L151.7,505.31 L151.9,506.19 L152.1,506.96 L152.3,507.63 L152.5,508.21 L152.7,508.72 L152.8,509.17 L153.0,509.56 L153.2,509.91 L153.4,510.22 L153.6,510.50 L153.8,510.76 L154.0,510.99 L154.2,511.19 L154.4,511.39 L154.5,511.56 L154.7,511.73 L154.9,511.88 L155.1,512.02 L155.3,512.15 L155.5,512.27 L155.7,512.39 L155.9,512.49 L156.1,512.59 L156.3,512.69 L156.4,512.78 L156.6,512.86 L156.8,512.94 L157.0,513.01 L157.2,513.08 L157.4,513.15 L157.6,513.21 L157.8,513.27 L158.0,513.32 L158.1,513.37 L158.3,513.42 L158.5,513.46 L158.7,513.51 L158.9,513.55 L159.1,513.59 L159.3,513.62 L159.5,513.66 L159.7,513.69 L159.8,513.72 L160.0,513.75 L160.2,513.77 L160.4,513.80 L160.6,513.82 L160.8,513.84 L161.0,513.86 L161.4,513.90 L161.7,513.93 L162.1,513.96 L162.5,513.99 L162.9,514.02 L163.2,514.04 L163.8,514.06 L164.4,514.09 L165.1,514.11 L166.1,514.13 L167.2,514.15 L169.1,514.17 L174.0,514.19 L244.4,514.17 L244.6,514.12 L244.8,514.00 L245.0,513.73 L245.2,513.12 L245.3,511.85 L245.5,509.34 L245.7,504.63 L245.9,496.33 L246.1,482.68 L246.3,461.86 L246.5,432.83 L246.7,396.66 L246.9,358.26 L247.0,328.62 L247.2,331.62 L247.4,349.15 L247.6,370.43 L247.8,392.61 L248.0,413.83 L248.2,432.97 L248.4,449.45 L248.6,463.14 L248.7,474.16 L248.9,482.81 L249.1,489.47 L249.3,494.53 L249.5,498.33 L249.7,501.18 L249.9,503.33 L250.1,504.96 L250.3,506.23 L250.4,507.24 L250.6,508.05 L250.8,508.73 L251.0,509.31 L251.2,509.80 L251.4,510.24 L251.6,510.63 L251.8,510.97 L252.0,511.28 L252.2,511.56 L252.3,511.82 L252.5,512.04 L252.7,512.25 L252.9,512.43 L253.1,512.60 L253.3,512.75 L253.5,512.89 L253.7,513.02 L253.9,513.13 L254.0,513.23 L254.2,513.32 L254.4,513.41 L254.6,513.48 L254.8,513.55 L255.0,513.61 L255.2,513.67 L255.4,513.72 L255.6,513.76 L255.7,513.81 L255.9,513.84 L256.1,513.88 L256.3,513.91 L256.5,513.94 L256.7,513.96 L256.9,513.98 L257.1,514.00 L257.4,514.04 L257.8,514.07 L258.2,514.09 L258.8,514.12 L259.3,514.14 L260.3,514.16 L262.0,514.19 L304.4,514.20" fill="none" stroke="#000" stroke-width="1.4" stroke-linejoin="round"/>
<line x1="105.00" y1="304.70" x2="135.40" y2="304.70" stroke="#000" stroke-width="1.3"/>
<text x="106.50" y="302.60" font-size="6.8" text-anchor="start" fill="#000" textLength="26.1" lengthAdjust="spacingAndGlyphs">period 1</text>
<line x1="144.00" y1="304.90" x2="174.70" y2="304.90" stroke="#000" stroke-width="1.3"/>
<text x="144.60" y="301.50" font-size="6.8" text-anchor="start" fill="#000" textLength="26.4" lengthAdjust="spacingAndGlyphs">period 2</text>
<line x1="220.40" y1="305.40" x2="250.40" y2="305.40" stroke="#000" stroke-width="1.3"/>
<text x="222.60" y="302.90" font-size="6.8" text-anchor="start" fill="#000" textLength="26.6" lengthAdjust="spacingAndGlyphs">period 3</text>
<text x="70.00" y="436.30" font-size="6.4" textLength="40.0" lengthAdjust="spacingAndGlyphs" style="stroke-width:0.08px">L-threonine</text>
<text x="97.50" y="410.30" font-size="6.4" textLength="32.5" lengthAdjust="spacingAndGlyphs" style="stroke-width:0.08px">L-alanine</text>
<text x="146.00" y="415.30" font-size="6.4" textLength="46.5" lengthAdjust="spacingAndGlyphs" style="stroke-width:0.08px">L-methionine</text>
<text x="202.50" y="348.60" font-size="6.4" textLength="35.0" lengthAdjust="spacingAndGlyphs" style="stroke-width:0.08px">L-arginine</text>
<line x1="88.50" y1="437.70" x2="109.33" y2="464.45" stroke="#000" stroke-width="0.95"/>
<polygon points="112.40,468.40 107.25,464.80 110.17,462.53" fill="#000"/>
<line x1="122.00" y1="410.50" x2="124.12" y2="438.01" stroke="#000" stroke-width="0.95"/>
<polygon points="124.50,443.00 122.20,437.16 125.88,436.88" fill="#000"/>
<line x1="172.50" y1="417.00" x2="155.34" y2="441.88" stroke="#000" stroke-width="0.95"/>
<polygon points="152.50,446.00 154.38,440.01 157.43,442.11" fill="#000"/>
<line x1="217.00" y1="352.00" x2="240.00" y2="363.08" stroke="#000" stroke-width="0.95"/>
<polygon points="244.50,365.25 238.29,364.31 239.90,360.98" fill="#000"/>
<text x="144.80" y="543.30" font-size="9.7" textLength="86.8" lengthAdjust="spacing">Retention Time, min</text>
<text x="16.80" y="460.00" font-size="10" text-anchor="start" fill="#000" textLength="100.0" lengthAdjust="spacingAndGlyphs" transform="rotate(-90 16.80 460.00)">Signal Intensity, counts</text>
<text x="0.80" y="303.70" font-size="16.8" text-anchor="start" font-weight="bold">c</text>
<line x1="400.60" y1="310.25" x2="400.60" y2="515.20" stroke="#000" stroke-width="1.1"/>
<line x1="400.10" y1="514.70" x2="655.00" y2="514.70" stroke="#000" stroke-width="1.1"/>
<line x1="396.10" y1="513.30" x2="400.60" y2="513.30" stroke="#000" stroke-width="1.1"/>
<text x="382.40" y="515.70" font-size="7.4" text-anchor="start" fill="#000" textLength="10.3" lengthAdjust="spacingAndGlyphs">0.0</text>
<line x1="396.10" y1="486.26" x2="400.60" y2="486.26" stroke="#000" stroke-width="1.1"/>
<text x="368.20" y="489.36" font-size="7.4" textLength="21.6" lengthAdjust="spacingAndGlyphs" fill="#000">2.0x10</text>
<text x="390.60" y="485.26" font-size="5.6" fill="#000">5</text>
<line x1="396.10" y1="459.22" x2="400.60" y2="459.22" stroke="#000" stroke-width="1.1"/>
<text x="368.20" y="462.32" font-size="7.4" textLength="21.6" lengthAdjust="spacingAndGlyphs" fill="#000">4.0x10</text>
<text x="390.60" y="458.22" font-size="5.6" fill="#000">5</text>
<line x1="396.10" y1="432.18" x2="400.60" y2="432.18" stroke="#000" stroke-width="1.1"/>
<text x="368.20" y="435.28" font-size="7.4" textLength="21.6" lengthAdjust="spacingAndGlyphs" fill="#000">6.0x10</text>
<text x="390.60" y="431.18" font-size="5.6" fill="#000">5</text>
<line x1="396.10" y1="405.14" x2="400.60" y2="405.14" stroke="#000" stroke-width="1.1"/>
<text x="368.20" y="408.24" font-size="7.4" textLength="21.6" lengthAdjust="spacingAndGlyphs" fill="#000">8.0x10</text>
<text x="390.60" y="404.14" font-size="5.6" fill="#000">5</text>
<line x1="396.10" y1="378.10" x2="400.60" y2="378.10" stroke="#000" stroke-width="1.1"/>
<text x="368.20" y="381.20" font-size="7.4" textLength="21.6" lengthAdjust="spacingAndGlyphs" fill="#000">1.0x10</text>
<text x="390.60" y="377.10" font-size="5.6" fill="#000">6</text>
<line x1="396.10" y1="351.06" x2="400.60" y2="351.06" stroke="#000" stroke-width="1.1"/>
<text x="368.20" y="354.16" font-size="7.4" textLength="21.6" lengthAdjust="spacingAndGlyphs" fill="#000">1.2x10</text>
<text x="390.60" y="350.06" font-size="5.6" fill="#000">6</text>
<line x1="396.10" y1="324.02" x2="400.60" y2="324.02" stroke="#000" stroke-width="1.1"/>
<text x="368.20" y="327.12" font-size="7.4" textLength="21.6" lengthAdjust="spacingAndGlyphs" fill="#000">1.4x10</text>
<text x="390.60" y="323.02" font-size="5.6" fill="#000">6</text>
<line x1="398.30" y1="499.78" x2="400.60" y2="499.78" stroke="#000" stroke-width="1.1"/>
<line x1="398.30" y1="472.74" x2="400.60" y2="472.74" stroke="#000" stroke-width="1.1"/>
<line x1="398.30" y1="445.70" x2="400.60" y2="445.70" stroke="#000" stroke-width="1.1"/>
<line x1="398.30" y1="418.66" x2="400.60" y2="418.66" stroke="#000" stroke-width="1.1"/>
<line x1="398.30" y1="391.62" x2="400.60" y2="391.62" stroke="#000" stroke-width="1.1"/>
<line x1="398.30" y1="364.58" x2="400.60" y2="364.58" stroke="#000" stroke-width="1.1"/>
<line x1="398.30" y1="337.54" x2="400.60" y2="337.54" stroke="#000" stroke-width="1.1"/>
<line x1="398.30" y1="310.50" x2="400.60" y2="310.50" stroke="#000" stroke-width="1.1"/>
<line x1="400.60" y1="514.70" x2="400.60" y2="519.20" stroke="#000" stroke-width="1.1"/>
<text x="400.60" y="527.40" font-size="7.4" text-anchor="middle" fill="#000" textLength="4.3" lengthAdjust="spacingAndGlyphs">0</text>
<line x1="436.93" y1="514.70" x2="436.93" y2="519.20" stroke="#000" stroke-width="1.1"/>
<text x="436.93" y="527.40" font-size="7.4" text-anchor="middle" fill="#000" textLength="4.3" lengthAdjust="spacingAndGlyphs">5</text>
<line x1="473.26" y1="514.70" x2="473.26" y2="519.20" stroke="#000" stroke-width="1.1"/>
<text x="473.26" y="527.40" font-size="7.4" text-anchor="middle" fill="#000" textLength="8.6" lengthAdjust="spacingAndGlyphs">10</text>
<line x1="509.59" y1="514.70" x2="509.59" y2="519.20" stroke="#000" stroke-width="1.1"/>
<text x="509.59" y="527.40" font-size="7.4" text-anchor="middle" fill="#000" textLength="8.6" lengthAdjust="spacingAndGlyphs">15</text>
<line x1="545.92" y1="514.70" x2="545.92" y2="519.20" stroke="#000" stroke-width="1.1"/>
<text x="545.92" y="527.40" font-size="7.4" text-anchor="middle" fill="#000" textLength="8.6" lengthAdjust="spacingAndGlyphs">20</text>
<line x1="582.25" y1="514.70" x2="582.25" y2="519.20" stroke="#000" stroke-width="1.1"/>
<text x="582.25" y="527.40" font-size="7.4" text-anchor="middle" fill="#000" textLength="8.6" lengthAdjust="spacingAndGlyphs">25</text>
<line x1="618.58" y1="514.70" x2="618.58" y2="519.20" stroke="#000" stroke-width="1.1"/>
<text x="618.58" y="527.40" font-size="7.4" text-anchor="middle" fill="#000" textLength="8.6" lengthAdjust="spacingAndGlyphs">30</text>
<line x1="654.91" y1="514.70" x2="654.91" y2="519.20" stroke="#000" stroke-width="1.1"/>
<text x="654.91" y="527.40" font-size="7.4" text-anchor="middle" fill="#000" textLength="8.6" lengthAdjust="spacingAndGlyphs">35</text>
<line x1="418.77" y1="514.70" x2="418.77" y2="517.00" stroke="#000" stroke-width="1.1"/>
<line x1="455.10" y1="514.70" x2="455.10" y2="517.00" stroke="#000" stroke-width="1.1"/>
<line x1="491.43" y1="514.70" x2="491.43" y2="517.00" stroke="#000" stroke-width="1.1"/>
<line x1="527.75" y1="514.70" x2="527.75" y2="517.00" stroke="#000" stroke-width="1.1"/>
<line x1="564.09" y1="514.70" x2="564.09" y2="517.00" stroke="#000" stroke-width="1.1"/>
<line x1="600.41" y1="514.70" x2="600.41" y2="517.00" stroke="#000" stroke-width="1.1"/>
<line x1="636.75" y1="514.70" x2="636.75" y2="517.00" stroke="#000" stroke-width="1.1"/>
<line x1="503.20" y1="310.00" x2="503.20" y2="514.70" stroke="#111" stroke-width="1.1"/>
<path d="M400.6,513.30 L459.5,513.27 L459.7,513.25 L459.9,513.22 L460.1,513.16 L460.3,513.07 L460.5,512.92 L460.8,512.68 L461.0,512.31 L461.2,511.73 L461.4,510.87 L461.6,509.59 L461.9,507.73 L462.1,505.07 L462.3,501.36 L462.5,496.29 L462.7,489.52 L462.9,480.70 L463.2,469.50 L463.4,455.70 L463.6,439.25 L463.8,420.35 L464.0,399.60 L464.3,378.10 L464.5,357.55 L464.7,340.52 L464.9,331.46 L465.1,339.70 L465.3,353.72 L465.6,370.54 L465.8,388.46 L466.0,406.30 L466.2,423.22 L466.4,438.68 L466.6,452.38 L466.9,464.20 L467.1,474.16 L467.3,482.39 L467.5,489.06 L467.7,494.39 L468.0,498.58 L468.2,501.84 L468.4,504.34 L468.6,506.25 L468.8,507.70 L469.0,508.80 L469.3,509.63 L469.5,510.26 L469.7,510.74 L469.9,511.12 L470.1,511.42 L470.4,511.66 L470.6,511.86 L470.8,512.02 L471.0,512.16 L471.2,512.28 L471.4,512.38 L471.7,512.47 L471.9,512.55 L472.1,512.63 L472.3,512.69 L472.5,512.75 L472.8,512.80 L473.0,512.85 L473.2,512.89 L473.4,512.93 L473.6,512.97 L473.8,513.00 L474.1,513.03 L474.3,513.05 L474.5,513.08 L474.7,513.10 L475.1,513.13 L475.6,513.16 L476.0,513.19 L476.5,513.21 L477.1,513.23 L478.0,513.25 L479.3,513.28 L483.0,513.30 L594.8,513.27 L595.0,513.24 L595.3,513.18 L595.5,513.08 L595.7,512.89 L595.9,512.55 L596.1,511.97 L596.3,510.99 L596.6,509.40 L596.8,506.88 L597.0,503.02 L597.2,497.27 L597.4,489.01 L597.7,477.59 L597.9,462.44 L598.1,443.27 L598.3,420.31 L598.5,394.63 L598.7,368.49 L599.0,345.71 L599.2,333.21 L599.4,340.49 L599.6,352.75 L599.8,367.58 L600.1,383.62 L600.3,399.88 L600.5,415.66 L600.7,430.44 L600.9,443.90 L601.1,455.86 L601.4,466.27 L601.6,475.17 L601.8,482.64 L602.0,488.82 L602.2,493.86 L602.4,497.92 L602.7,501.15 L602.9,503.71 L603.1,505.70 L603.3,507.26 L603.5,508.46 L603.8,509.39 L604.0,510.10 L604.2,510.66 L604.4,511.09 L604.6,511.43 L604.8,511.70 L605.1,511.91 L605.3,512.09 L605.5,512.23 L605.7,512.35 L605.9,512.46 L606.2,512.54 L606.4,512.62 L606.6,512.69 L606.8,512.75 L607.0,512.80 L607.2,512.85 L607.5,512.90 L607.7,512.93 L607.9,512.97 L608.1,513.00 L608.3,513.03 L608.6,513.06 L608.8,513.08 L609.0,513.10 L609.4,513.14 L609.9,513.17 L610.3,513.19 L611.0,513.22 L611.6,513.24 L612.7,513.26 L614.4,513.28 L654.1,513.30" fill="none" stroke="#000" stroke-width="1.4" stroke-linejoin="round"/>
<line x1="442.00" y1="313.30" x2="475.75" y2="313.30" stroke="#000" stroke-width="1.3"/>
<text x="445.00" y="312.50" font-size="6.8" text-anchor="start" fill="#000" textLength="26.5" lengthAdjust="spacingAndGlyphs">period 1</text>
<line x1="566.25" y1="315.10" x2="599.50" y2="315.10" stroke="#000" stroke-width="1.3"/>
<text x="569.00" y="313.50" font-size="6.8" text-anchor="start" fill="#000" textLength="26.5" lengthAdjust="spacingAndGlyphs">period 2</text>
<text x="406.25" y="353.20" font-size="6.4" textLength="53.8" lengthAdjust="spacingAndGlyphs" style="stroke-width:0.08px" font-weight="bold">L-glutamic acid</text>
<text x="542.50" y="344.00" font-size="6.4" textLength="37.0" lengthAdjust="spacingAndGlyphs" style="stroke-width:0.08px" font-weight="bold">L-histidine</text>
<line x1="427.50" y1="355.75" x2="455.46" y2="368.65" stroke="#000" stroke-width="0.95"/>
<polygon points="460.00,370.75 453.78,369.92 455.33,366.56" fill="#000"/>
<line x1="557.50" y1="347.00" x2="590.71" y2="366.93" stroke="#000" stroke-width="0.95"/>
<polygon points="595.00,369.50 588.90,368.00 590.81,364.83" fill="#000"/>
<text x="483.40" y="543.30" font-size="9.7" textLength="87.3" lengthAdjust="spacing">Retention Time, min</text>
<text x="354.90" y="458.80" font-size="9.8" text-anchor="start" fill="#000" textLength="99.3" lengthAdjust="spacingAndGlyphs" transform="rotate(-90 354.90 458.80)">Signal Intensity, counts</text>
<text x="349.20" y="300.50" font-size="16" text-anchor="start" font-weight="bold">d</text>
</svg>
</body></html>
